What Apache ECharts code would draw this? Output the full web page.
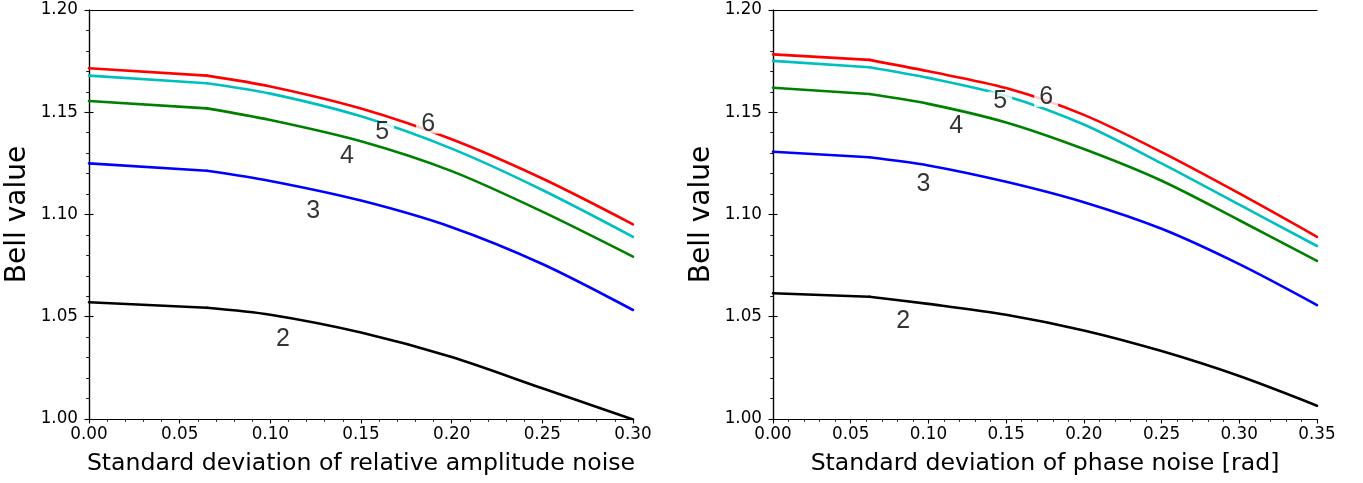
<!DOCTYPE html>
<html><head><meta charset="utf-8">
<script src="https://cdn.jsdelivr.net/npm/echarts@6/dist/echarts.min.js"></script>
<style>html,body{margin:0;padding:0;background:#fff}#c{width:1363px;height:483px}</style>
</head><body><div id="c"></div>
<script>
// Left panel: relative amplitude noise
const ampX = [0, 0.065, 0.10, 0.15, 0.20, 0.25, 0.30];
const amp6 = [1.1715, 1.1679, 1.1626, 1.1518, 1.1368, 1.1176, 1.0952];
const amp5 = [1.1679, 1.1642, 1.1591, 1.1480, 1.1322, 1.1120, 1.0891];
const amp4 = [1.1555, 1.1519, 1.1462, 1.1358, 1.1212, 1.1014, 1.0794];
const amp3 = [1.1250, 1.1214, 1.1164, 1.1068, 1.0938, 1.0758, 1.0533];
const amp2 = [1.0571, 1.0544, 1.0510, 1.0423, 1.0303, 1.0150, 0.9998];
// Right panel: phase noise
const phX = [0, 0.062, 0.10, 0.15, 0.20, 0.25, 0.30, 0.35];
const ph6 = [1.1783, 1.1756, 1.1700, 1.1618, 1.1487, 1.1305, 1.1103, 1.0891];
const ph5 = [1.1751, 1.1720, 1.1668, 1.1580, 1.1440, 1.1250, 1.1048, 1.0846];
const ph4 = [1.1620, 1.1589, 1.1541, 1.1450, 1.1320, 1.1165, 1.0972, 1.0773];
const ph3 = [1.1307, 1.1280, 1.1240, 1.1160, 1.1060, 1.0930, 1.0757, 1.0557];
const ph2 = [1.0615, 1.0598, 1.0563, 1.0510, 1.0433, 1.0332, 1.0210, 1.0065];
// curve labels (data coordinates)
const curveNames = ['2', '3', '4', '5', '6'];
const ampLabelX = [0.107, 0.1236, 0.1423, 0.1617, 0.1870];
const ampLabelY = [1.0390, 1.1018, 1.1287, 1.1405, 1.1442];
const phLabelX = [0.0837, 0.0968, 0.1178, 0.1462, 0.1757];
const phLabelY = [1.0480, 1.1150, 1.1430, 1.1555, 1.1572];
const xTitles = ['Standard deviation of relative amplitude noise', 'Standard deviation of phase noise [rad]'];
const yTitle = 'Bell value';

const colors = {'6': '#ff0000', '5': '#00bfbf', '4': '#008000', '3': '#0000ff', '2': '#000000'};
const FONT = 'DejaVu Sans';
const chart = echarts.init(document.getElementById('c'), null, {renderer: 'canvas'});

function zip(xs, ys) { return xs.map((x, i) => [x, ys[i]]); }

const grids = [
  {left: 89, top: 10, width: 544, height: 409},
  {left: 773, top: 10, width: 544, height: 409}
];
const axisLine = {show: true, lineStyle: {color: '#000', width: 1.2}};
const xAxes = [], yAxes = [];
[0.30, 0.35].forEach((mx, g) => {
  xAxes.push({
    type: 'value', gridIndex: g, position: 'bottom', min: 0, max: mx, interval: 0.05,
    axisLine: axisLine,
    axisTick: {show: true, inside: false, length: 4.5, lineStyle: {color: '#000', width: 1.1}},
    minorTick: {show: true, splitNumber: 5, length: 2.8, lineStyle: {color: '#000', width: 0.9}},
    splitLine: {show: false},
    axisLabel: {show: true, margin: 7, color: '#000', fontFamily: FONT, fontSize: 16.8,
      formatter: v => v.toFixed(2), showMinLabel: true, showMaxLabel: true},
    name: xTitles[g], nameLocation: 'middle', nameGap: 33,
    nameTextStyle: {color: '#000', fontFamily: FONT, fontSize: 23.6}
  });
  xAxes.push({
    type: 'value', gridIndex: g, position: 'top', min: 0, max: mx,
    axisLine: axisLine, axisTick: {show: false}, axisLabel: {show: false}, splitLine: {show: false}
  });
  yAxes.push({
    type: 'value', gridIndex: g, position: 'left', min: 1.0, max: 1.2, interval: 0.05,
    axisLine: axisLine,
    axisTick: {show: true, inside: false, length: 4.5, lineStyle: {color: '#000', width: 1.1}},
    minorTick: {show: true, splitNumber: 5, length: 2.8, lineStyle: {color: '#000', width: 0.9}},
    splitLine: {show: false},
    axisLabel: {show: true, margin: 11, color: '#000', fontFamily: FONT, fontSize: 16.8,
      formatter: v => v.toFixed(2), showMinLabel: true, showMaxLabel: true},
    name: yTitle, nameLocation: 'middle', nameGap: 57,
    nameTextStyle: {color: '#000', fontFamily: FONT, fontSize: 28}
  });
  yAxes.push({
    type: 'value', gridIndex: g, position: 'right', min: 1.0, max: 1.2, interval: 0.05,
    axisLine: axisLine,
    axisTick: {show: true, inside: false, length: 4.5, lineStyle: {color: '#000', width: 1.1}},
    axisLabel: {show: false}, splitLine: {show: false}
  });
});

const series = [];
const panels = [
  {x: ampX, ys: {'2': amp2, '3': amp3, '4': amp4, '5': amp5, '6': amp6}, lx: ampLabelX, ly: ampLabelY},
  {x: phX, ys: {'2': ph2, '3': ph3, '4': ph4, '5': ph5, '6': ph6}, lx: phLabelX, ly: phLabelY}
];
panels.forEach((p, g) => {
  ['2', '3', '4', '5', '6'].forEach(k => {
    const pts = zip(p.x, p.ys[k]);
    // first (straight) segment up to the kink
    series.push({
      type: 'line', xAxisIndex: 2 * g, yAxisIndex: 2 * g, data: pts.slice(0, 2),
      symbol: 'none', smooth: false, clip: true, z: 2,
      lineStyle: {color: colors[k], width: 2.6, cap: 'round'}, silent: true
    });
    // smooth part after the kink
    series.push({
      type: 'line', xAxisIndex: 2 * g, yAxisIndex: 2 * g, data: pts.slice(1),
      symbol: 'none', smooth: 0.3, clip: true, z: 2,
      lineStyle: {color: colors[k], width: 2.6, cap: 'round'}, silent: true
    });
  });
  series.push({
    type: 'scatter', xAxisIndex: 2 * g, yAxisIndex: 2 * g, z: 10, symbolSize: 0,
    data: curveNames.map((n, i) => ({value: [p.lx[i], p.ly[i]], name: n})),
    label: {show: true, position: 'inside', formatter: d => d.name, color: '#000',
      fontFamily: 'Liberation Sans', fontSize: 25, backgroundColor: '#fff',
      padding: [0, 5], lineHeight: 19},
    silent: true
  });
});

chart.setOption({
  animation: false, backgroundColor: '#fff',
  grid: grids, xAxis: xAxes, yAxis: yAxes, series: series
});
</script></body></html>
